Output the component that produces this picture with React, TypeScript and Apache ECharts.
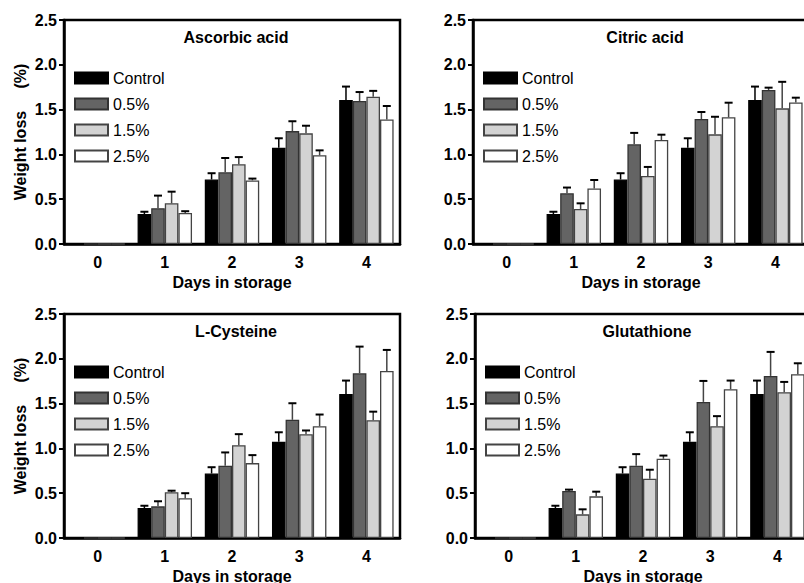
import React, { useEffect, useRef } from "react";
import * as echarts from "echarts";

const days = ["0", "1", "2", "3", "4"];
const groupNames = ["Control", "0.5%", "1.5%", "2.5%"];
const panelTitles = ["Ascorbic acid", "Citric acid", "L-Cysteine", "Glutathione"];
const yTicks = [0, 0.5, 1.0, 1.5, 2.0, 2.5];

const control = [0, 0.335, 0.72, 1.075, 1.607];
const controlErr = [0, 0.025, 0.07, 0.105, 0.15];

const ascorbic05 = [0, 0.4, 0.8, 1.26, 1.596];
const ascorbic05Err = [0, 0.14, 0.16, 0.11, 0.1];
const ascorbic15 = [0, 0.454, 0.89, 1.235, 1.644];
const ascorbic15Err = [0, 0.13, 0.08, 0.085, 0.065];
const ascorbic25 = [0, 0.346, 0.71, 0.99, 1.39];
const ascorbic25Err = [0, 0.02, 0.02, 0.055, 0.15];

const citric05 = [0, 0.566, 1.113, 1.395, 1.719];
const citric05Err = [0, 0.064, 0.127, 0.078, 0.026];
const citric15 = [0, 0.39, 0.76, 1.224, 1.514];
const citric15Err = [0, 0.064, 0.1, 0.196, 0.296];
const citric25 = [0, 0.62, 1.16, 1.414, 1.58];
const citric25Err = [0, 0.094, 0.06, 0.163, 0.053];

const cysteine05 = [0, 0.353, 0.806, 1.319, 1.839];
const cysteine05Err = [0, 0.057, 0.149, 0.185, 0.297];
const cysteine15 = [0, 0.51, 1.036, 1.159, 1.315];
const cysteine15Err = [0, 0.018, 0.123, 0.041, 0.095];
const cysteine25 = [0, 0.443, 0.836, 1.248, 1.865];
const cysteine25Err = [0, 0.057, 0.089, 0.13, 0.234];

const glutathione05 = [0, 0.525, 0.806, 1.519, 1.809];
const glutathione05Err = [0, 0.015, 0.13, 0.234, 0.268];
const glutathione15 = [0, 0.264, 0.661, 1.248, 1.627];
const glutathione15Err = [0, 0.056, 0.101, 0.112, 0.115];
const glutathione25 = [0, 0.465, 0.884, 1.66, 1.827];
const glutathione25Err = [0, 0.052, 0.036, 0.097, 0.123];

const FONT = "Arial, 'Liberation Sans', Helvetica, sans-serif";
const fills = ["#000000", "#646464", "#d3d3d3", "#ffffff"];
const borders = ["#000000", "#333333", "#444444", "#444444"];
const CAT_GAP = 0.19;

const panelValues = [
  [control, ascorbic05, ascorbic15, ascorbic25],
  [control, citric05, citric15, citric25],
  [control, cysteine05, cysteine15, cysteine25],
  [control, glutathione05, glutathione15, glutathione25],
];
const panelErrs = [
  [controlErr, ascorbic05Err, ascorbic15Err, ascorbic25Err],
  [controlErr, citric05Err, citric15Err, citric25Err],
  [controlErr, cysteine05Err, cysteine15Err, cysteine25Err],
  [controlErr, glutathione05Err, glutathione15Err, glutathione25Err],
];

const gridPos = [
  { left: 64, top: 20 },
  { left: 473, top: 20 },
  { left: 64, top: 314 },
  { left: 475, top: 314 },
];
const GW = 336;
const GH = 224;

export default function App() {
  const ref = useRef<HTMLDivElement>(null);
  useEffect(() => {
    if (!ref.current) return;
    const chart = echarts.init(ref.current, null, { renderer: "svg" });
    const grids: any[] = [];
    const xAxes: any[] = [];
    const yAxes: any[] = [];
    const series: any[] = [];
    const legends: any[] = [];
    const titles: any[] = [];

    panelTitles.forEach((t, k) => {
      const g = gridPos[k];
      grids.push({
        left: g.left,
        top: g.top,
        width: GW,
        height: GH,
        show: true,
        backgroundColor: "transparent",
        borderColor: "#000",
        borderWidth: 2.5,
        containLabel: false,
        outerBoundsMode: "none",
      });
      xAxes.push({
        gridIndex: k,
        type: "category",
        data: days,
        axisTick: { show: false },
        axisLine: { lineStyle: { color: "#000", width: 2.5 } },
        axisLabel: { color: "#000", fontSize: 16, fontWeight: "bold", fontFamily: FONT, margin: 10 },
        name: "Days in storage",
        nameLocation: "middle",
        nameGap: 30,
        nameTextStyle: { color: "#000", fontSize: 16, fontWeight: "bold", fontFamily: FONT },
      });
      yAxes.push({
        gridIndex: k,
        type: "value",
        min: yTicks[0],
        max: yTicks[yTicks.length - 1],
        interval: 0.5,
        axisLine: { show: true, lineStyle: { color: "#000", width: 2.5 } },
        axisTick: { show: true, length: 5, lineStyle: { color: "#000", width: 2 } },
        splitLine: { show: false },
        axisLabel: {
          color: "#000",
          fontSize: 16,
          fontWeight: "bold",
          fontFamily: FONT,
          margin: 7,
          formatter: (v: number) => v.toFixed(1),
        },
        name: k % 2 === 0 ? "Weight loss\u00a0\u00a0\u00a0\u00a0\u00a0(%)" : "",
        nameLocation: "middle",
        nameGap: 36,
        nameTextStyle: { color: "#000", fontSize: 16, fontWeight: "bold", fontFamily: FONT },
      });
      titles.push({
        text: t,
        left: g.left + GW * 0.5 - 1,
        top: g.top + 4,
        textAlign: "center",
        textStyle: { color: "#000", fontSize: 16, fontWeight: "bold", fontFamily: FONT },
      });
      legends.push({
        data: groupNames,
        orient: "vertical",
        left: g.left + 5,
        top: g.top + 45,
        itemWidth: 33,
        itemHeight: 11,
        itemGap: 10,
        icon: "rect",
        selectedMode: false,
        textStyle: { color: "#000", fontSize: 16, fontFamily: FONT },
      });
      groupNames.forEach((name, s) => {
        series.push({
          type: "bar",
          name,
          xAxisIndex: k,
          yAxisIndex: k,
          data: panelValues[k][s],
          barGap: "0%",
          barCategoryGap: CAT_GAP * 100 + "%",
          itemStyle: { color: fills[s], borderColor: borders[s], borderWidth: 1.3 },
          emphasis: { disabled: true },
        });
      });
      groupNames.forEach((name, s) => {
        series.push({
          type: "custom",
          xAxisIndex: k,
          yAxisIndex: k,
          z: 5,
          data: days.map((d, i) => [i, panelValues[k][s][i], panelErrs[k][s][i]]),
          renderItem: (params: any, api: any) => {
            const i = api.value(0);
            const v = api.value(1);
            const e = api.value(2);
            if (!e) return null;
            const base = api.coord([i, v]);
            const top = api.coord([i, v + e]);
            const band = api.size([1, 0])[0];
            const gw = band * (1 - CAT_GAP);
            const bw = gw / 4;
            const cx = base[0] - gw / 2 + bw * (s + 0.5);
            return {
              type: "group",
              children: [
                {
                  type: "line",
                  shape: { x1: cx, y1: base[1], x2: cx, y2: top[1] },
                  style: { stroke: s === 0 ? "#000" : "#444", lineWidth: 1.5 },
                },
                {
                  type: "line",
                  shape: { x1: cx - 4, y1: top[1], x2: cx + 4, y2: top[1] },
                  style: { stroke: "#000", lineWidth: 2 },
                },
              ],
            };
          },
        });
      });
    });

    chart.setOption({
      animation: false,
      backgroundColor: "#fff",
      textStyle: { fontFamily: FONT },
      title: titles,
      legend: legends,
      grid: grids,
      xAxis: xAxes,
      yAxis: yAxes,
      series,
    });
    return () => chart.dispose();
  }, []);
  return (
    <div
      ref={ref}
      style={{ position: "absolute", left: 0, top: 0, width: 804, height: 583 }}
    />
  );
}
